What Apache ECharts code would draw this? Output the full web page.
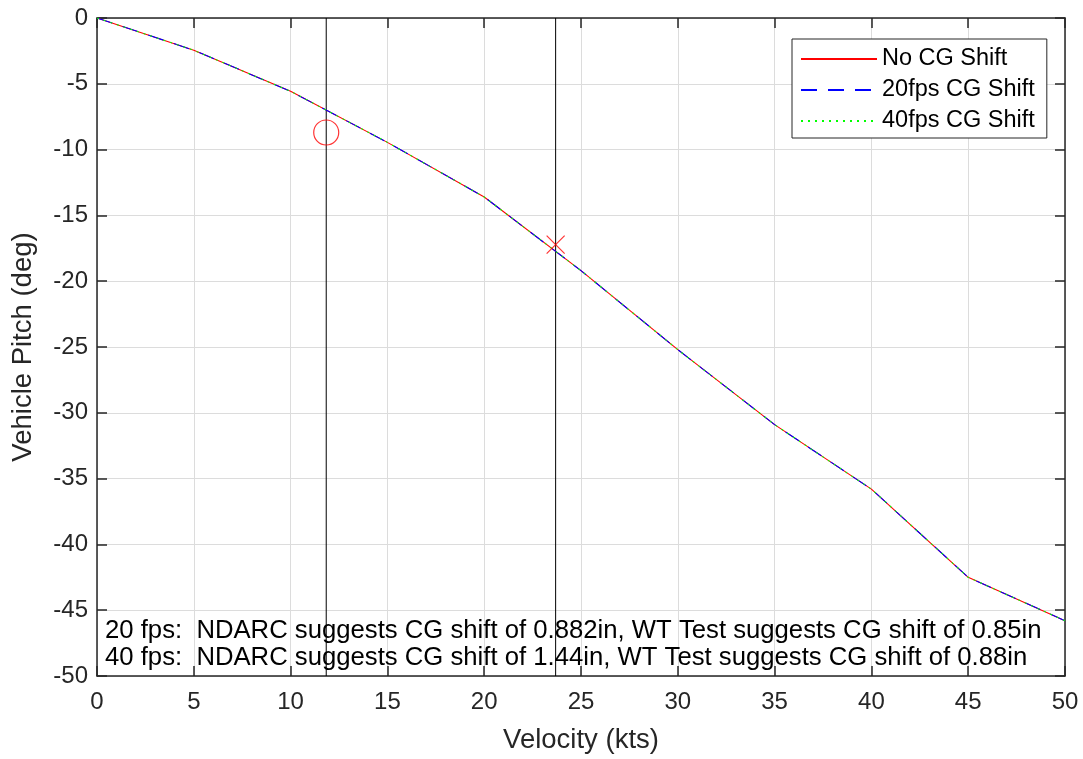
<!DOCTYPE html>
<html>
<head>
<meta charset="utf-8">
<script src="https://cdn.jsdelivr.net/npm/echarts@6/dist/echarts.min.js"></script>
<style>
html,body{margin:0;padding:0;background:#fff;}
#chart{width:1083px;height:759px;}
</style>
</head>
<body>
<div id="chart"></div>
<script>
// ---- data ----
var velocity = [0, 5, 10, 15, 20, 25, 30, 35, 40, 45, 50];
var pitchNoShift = [0, -2.45, -5.57, -9.45, -13.6, -19.2, -25.2, -30.9, -35.8, -42.5, -45.8];
var pitch20fps   = [0, -2.45, -5.57, -9.45, -13.6, -19.2, -25.2, -30.9, -35.8, -42.5, -45.8];
var pitch40fps   = [0, -2.45, -5.57, -9.45, -13.6, -19.2, -25.2, -30.9, -35.8, -42.5, -45.8];
var seriesNames = ['No CG Shift', '20fps CG Shift', '40fps CG Shift'];
var verticalLineX = [11.84, 23.69];
var circlePoint = [11.84, -8.7];
var crossPoint = [23.69, -17.22];
var annotationLines = [
  '20 fps:  NDARC suggests CG shift of 0.882in, WT Test suggests CG shift of 0.85in',
  '40 fps:  NDARC suggests CG shift of 1.44in, WT Test suggests CG shift of 0.88in'
];
var xLabel = 'Velocity (kts)';
var yLabel = 'Vehicle Pitch (deg)';

function pairs(xs, ys) { return xs.map(function (x, i) { return [x, ys[i]]; }); }

var FONT = 'Liberation Sans, Arial, sans-serif';
var AX = '#262626';
var GRIDC = '#dcdcdc';

var chart = echarts.init(document.getElementById('chart'), null, {renderer: 'canvas'});

var vSeries = verticalLineX.map(function (x, i) {
  return {
    name: 'vline' + i, type: 'line', xAxisIndex: 0, yAxisIndex: 0,
    data: [[x, 0], [x, -50]], symbol: 'none', silent: true,
    lineStyle: {color: '#000', width: 1}, z: 3
  };
});

var option = {
  animation: false,
  backgroundColor: '#fff',
  grid: {left: 97, right: 18, top: 18, bottom: 80, containLabel: false},
  legend: {
    data: seriesNames.map(function (n) { return {name: n}; }),
    orient: 'vertical',
    left: 792, top: 39,
    padding: [8, 12, 5, 8],
    itemWidth: 76, itemHeight: 14, itemGap: 7,
    backgroundColor: '#fff',
    borderColor: AX, borderWidth: 1,
    itemStyle: {opacity: 0},
    textStyle: {fontFamily: FONT, fontSize: 23.5, color: '#000', lineHeight: 24},
    selectedMode: false
  },
  xAxis: [{
    type: 'value', min: 0, max: 50, interval: 5, position: 'bottom',
    name: xLabel, nameLocation: 'middle', nameGap: 50,
    nameTextStyle: {fontFamily: FONT, fontSize: 27.5, color: AX},
    axisLine: {show: true, onZero: false, lineStyle: {color: AX, width: 1.5}},
    axisTick: {show: true, inside: true, length: 10, lineStyle: {color: AX, width: 1.5}},
    axisLabel: {fontFamily: FONT, fontSize: 24, color: AX, margin: 14},
    splitLine: {show: true, lineStyle: {color: GRIDC, width: 1}}
  }, {
    type: 'value', min: 0, max: 50, interval: 5, position: 'top',
    axisLine: {show: true, onZero: false, lineStyle: {color: AX, width: 1.5}},
    axisTick: {show: true, inside: true, length: 10, lineStyle: {color: AX, width: 1.5}},
    axisLabel: {show: false}, splitLine: {show: false}
  }],
  yAxis: [{
    type: 'value', min: -50, max: 0, interval: 5, position: 'left',
    name: yLabel, nameLocation: 'middle', nameGap: 60, nameRotate: 90,
    nameTextStyle: {fontFamily: FONT, fontSize: 27.5, color: AX},
    axisLine: {show: true, onZero: false, lineStyle: {color: AX, width: 1.5}},
    axisTick: {show: true, inside: true, length: 10, lineStyle: {color: AX, width: 1.5}},
    axisLabel: {fontFamily: FONT, fontSize: 24, color: AX, margin: 9},
    splitLine: {show: true, lineStyle: {color: GRIDC, width: 1}}
  }, {
    type: 'value', min: -50, max: 0, interval: 5, position: 'right',
    axisLine: {show: true, onZero: false, lineStyle: {color: AX, width: 1.5}},
    axisTick: {show: true, inside: true, length: 10, lineStyle: {color: AX, width: 1.5}},
    axisLabel: {show: false}, splitLine: {show: false}
  }],
  graphic: annotationLines.map(function (t, i) {
    return {
      type: 'text', left: 105, top: 618 + i * 27, z: 10, silent: true,
      style: {text: t, fontFamily: FONT, fontSize: 25.7, fill: '#000'}
    };
  }),
  series: [
    {
      name: seriesNames[0], type: 'line', data: pairs(velocity, pitchNoShift),
      symbol: 'none', lineStyle: {color: '#ff0000', width: 1.1, type: 'solid'},
      itemStyle: {color: '#ff0000'}, z: 4
    },
    {
      name: seriesNames[1], type: 'line', data: pairs(velocity, pitch20fps),
      symbol: 'none', lineStyle: {color: '#0000ff', width: 1.1, type: [16, 11]},
      itemStyle: {color: '#0000ff'}, z: 5
    },
    {
      name: seriesNames[2], type: 'line', data: pairs(velocity, pitch40fps),
      symbol: 'none', lineStyle: {color: '#00ff00', width: 1.1, type: [2, 5]},
      itemStyle: {color: '#00ff00'}, z: 6
    }
  ].concat(vSeries).concat([
    {
      name: 'circleMark', type: 'scatter', data: [circlePoint],
      symbol: 'circle', symbolSize: 25, silent: true, z: 7,
      itemStyle: {color: 'rgba(0,0,0,0)', borderColor: '#ff0000', borderWidth: 1.2}
    },
    {
      name: 'crossMark', type: 'scatter', data: [crossPoint],
      symbol: 'path://M0,0L10,10M10,0L0,10', symbolSize: 18, silent: true, z: 7,
      itemStyle: {color: 'rgba(0,0,0,0)', borderColor: '#ff0000', borderWidth: 1.2}
    }
  ])
};
chart.setOption(option);
</script>
</body>
</html>
